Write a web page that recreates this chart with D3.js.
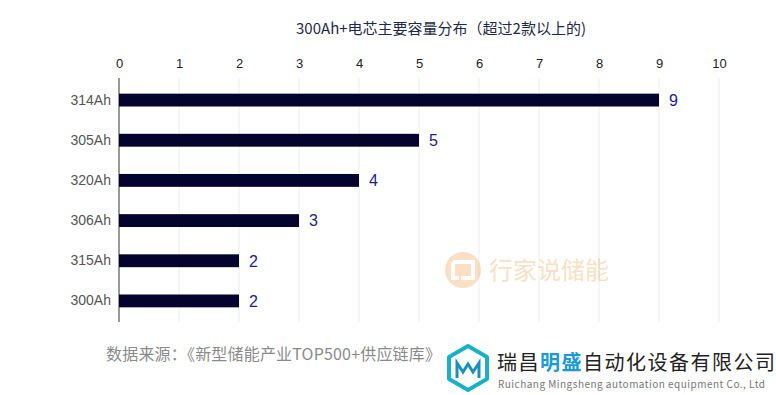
<!DOCTYPE html>
<html>
<head>
<meta charset="utf-8">
<script src="https://cdn.jsdelivr.net/npm/d3@7"></script>
<style>
  body { margin: 0; background: #fff; }
  svg { font-family: "Microsoft YaHei", "Noto Sans CJK SC", sans-serif; }
</style>
</head>
<body>
<div id="chart"></div>
<script>
var categories = ["314Ah", "305Ah", "320Ah", "306Ah", "315Ah", "300Ah"];
var counts = [9, 5, 4, 3, 2, 2];
var xTicks = [0, 1, 2, 3, 4, 5, 6, 7, 8, 9, 10];

var svg = d3.select("#chart").append("svg").attr("width", 776).attr("height", 395),
  margin = {top: 80, left: 119},
  width = 600,
  height = 241,
  g = svg.append("g").attr("transform", "translate(" + margin.left + "," + margin.top + ")");

var x = d3.scaleLinear().domain([0, 10]).range([0, width]);
var y = d3.scaleBand().domain(categories).range([0, height]).paddingInner(0.68).paddingOuter(0.34);

// title
svg.append("text")
  .attr("x", 441).attr("y", 34)
  .attr("text-anchor", "middle")
  .attr("fill", "#1c2a48")
  .style("font-size", "15px")
  .text("300Ah+电芯主要容量分布（超过2款以上的)");

// grid
g.selectAll(".grid").data(xTicks.slice(1)).enter().append("line")
  .attr("x1", function (d) { return x(d); })
  .attr("x2", function (d) { return x(d); })
  .attr("y1", -2).attr("y2", height + 1)
  .attr("stroke", "#ececec");

// top axis labels
var xAxis = g.append("g").call(d3.axisTop(x).tickValues(xTicks).tickSize(0).tickPadding(12));
xAxis.select(".domain").remove();
xAxis.selectAll("text").attr("fill", "#222").style("font-size", "13px")
  .style("font-family", "Arial, 'Liberation Sans', sans-serif");

// left axis
var yAxis = g.append("g").call(d3.axisLeft(y).tickSize(0).tickPadding(8));
yAxis.select(".domain").attr("stroke", "#333").attr("d", "M0,-2V" + (height + 1));
yAxis.selectAll("text").attr("fill", "#555").style("font-size", "14px")
  .style("font-family", "Arial, 'Liberation Sans', sans-serif");

// watermark
var wm = svg.append("g").attr("opacity", 0.35);
wm.append("circle").attr("cx", 463).attr("cy", 270).attr("r", 18).attr("fill", "#f2a65a");
wm.append("path").attr("d", "M453,262h20v16h-12M453,262v16h6").attr("fill", "none").attr("stroke", "#fff").attr("stroke-width", 4);
wm.append("text").attr("x", 489).attr("y", 279).attr("fill", "#f2a65a")
  .style("font-size", "24px").text("行家说储能");

// bars
g.selectAll(".bar").data(counts).enter().append("rect")
  .attr("x", 0)
  .attr("y", function (d, i) { return y(categories[i]); })
  .attr("width", function (d) { return x(d); })
  .attr("height", y.bandwidth())
  .attr("fill", "#03032e");

g.selectAll(".val").data(counts).enter().append("text")
  .attr("x", function (d) { return x(d) + 10; })
  .attr("y", function (d, i) { return y(categories[i]) + y.bandwidth() / 2; })
  .attr("dy", "0.36em")
  .attr("fill", "#1c1c8c")
  .style("font-size", "16px")
  .style("font-family", "Arial, 'Liberation Sans', sans-serif")
  .text(function (d) { return d; });

// source
svg.append("text").attr("x", 106).attr("y", 360)
  .attr("fill", "#8a8a8a").style("font-size", "16px")
  .attr("textLength", 335)
  .text("数据来源：《新型储能产业TOP500+供应链库》");

// company logo
var logo = svg.append("g");
logo.append("path")
  .attr("d", "M468,346l19,11v22l-19,11l-19,-11v-22z")
  .attr("fill", "none").attr("stroke", "#1ab0c8").attr("stroke-width", 4).attr("stroke-linejoin", "round");
logo.append("path")
  .attr("d", "M457,378v-15l6,9l5,-8l5,8l6,-9v15")
  .attr("fill", "none").attr("stroke", "#1a8fc0").attr("stroke-width", 3);
var ct = logo.append("text").attr("x", 497).attr("y", 370).style("font-size", "20px").attr("fill", "#222")
  .attr("textLength", 278);
ct.append("tspan").text("瑞昌");
ct.append("tspan").attr("fill", "#1a9ad6").style("font-weight", "bold").text("明盛");
ct.append("tspan").text("自动化设备有限公司");
logo.append("text").attr("x", 498).attr("y", 388).attr("fill", "#777")
  .style("font-size", "10px").attr("textLength", 267)
  .text("Ruichang Mingsheng automation equipment Co., Ltd");
</script>
</body>
</html>
